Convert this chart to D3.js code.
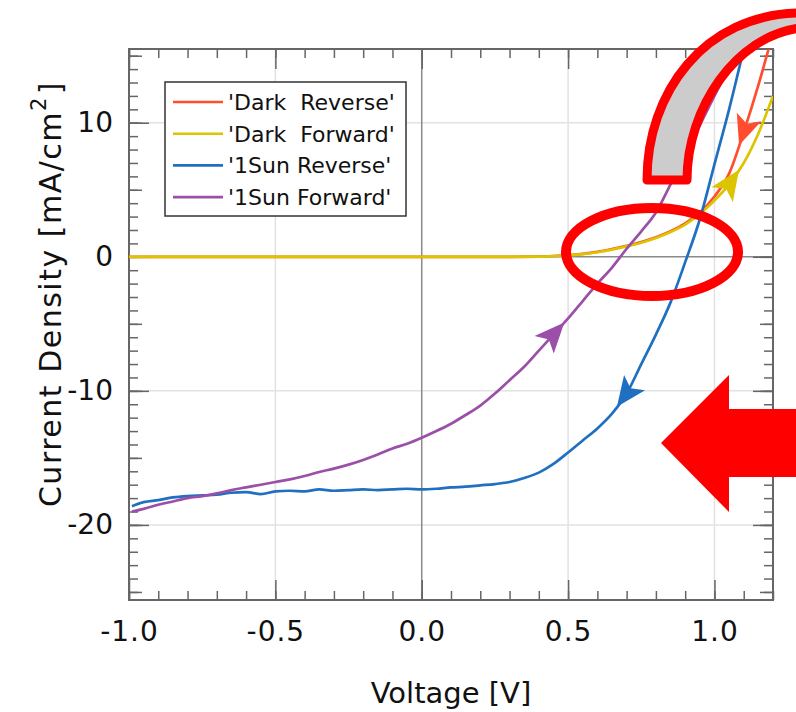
<!DOCTYPE html>
<html lang="en">
<head>
<meta charset="UTF-8">
<title>J-V hysteresis</title>
<style>
  body { margin: 0; background: #fff; }
  text { font-family: "DejaVu Sans", sans-serif; fill: #111; }
</style>
</head>
<body>
<svg id="chart" width="796" height="712"></svg>
<script src="https://cdn.jsdelivr.net/npm/d3@7/dist/d3.min.js"></script>
<script>
// --- data (V in volts, J in mA/cm2) ---
var seriesNames = ["'Dark\u00a0\u00a0Reverse'", "'Dark\u00a0\u00a0Forward'", "'1Sun Reverse'", "'1Sun Forward'"];
var seriesColors = ["#ff4d2e", "#dcc400", "#1f70c0", "#9c4fa8"];

var darkRevV = [-1.0, -0.5, 0.0, 0.3, 0.4, 0.45, 0.5, 0.55, 0.6, 0.65, 0.7, 0.75, 0.8, 0.85, 0.9, 0.95, 1.0, 1.05, 1.1, 1.15, 1.185];
var darkRevJ = [0, 0, 0, 0, 0.02, 0.06, 0.12, 0.22, 0.37, 0.58, 0.82, 1.1, 1.45, 1.9, 2.5, 3.3, 4.5, 6.2, 9.3, 12.8, 15.5];

var darkFwdV = [-1.0, -0.5, 0.0, 0.3, 0.4, 0.45, 0.5, 0.55, 0.6, 0.65, 0.7, 0.75, 0.8, 0.85, 0.9, 0.95, 1.0, 1.05, 1.1, 1.15, 1.2];
var darkFwdJ = [0, 0, 0, 0, 0.01, 0.05, 0.1, 0.2, 0.34, 0.54, 0.78, 1.05, 1.4, 1.85, 2.4, 3.2, 4.2, 5.4, 7.0, 9.2, 12.0];

var sunRevV = [-0.99, -0.95, -0.9, -0.85, -0.8, -0.75, -0.7, -0.65, -0.6, -0.55, -0.5, -0.45, -0.4, -0.35, -0.3, -0.25, -0.2, -0.15, -0.1, -0.05,
               0.0, 0.05, 0.1, 0.15, 0.2, 0.25, 0.3, 0.35, 0.4, 0.45, 0.5, 0.55, 0.6, 0.65, 0.7, 0.75, 0.8, 0.85, 0.9, 0.95, 1.0, 1.05, 1.1];
var sunRevJ = [-18.6, -18.3, -18.15, -17.95, -17.85, -17.8, -17.75, -17.6, -17.55, -17.7, -17.5, -17.45, -17.5, -17.35, -17.45, -17.4, -17.35, -17.4, -17.35, -17.3,
               -17.35, -17.3, -17.2, -17.15, -17.05, -16.95, -16.8, -16.5, -16.1, -15.45, -14.6, -13.7, -12.8, -11.7, -10.2, -8.0, -5.8, -3.4, -0.4, 2.8, 6.9, 11.0, 15.5];

var sunFwdV = [-0.99, -0.95, -0.9, -0.85, -0.8, -0.75, -0.7, -0.65, -0.6, -0.55, -0.5, -0.45, -0.4, -0.35, -0.3, -0.25, -0.2, -0.15, -0.1, -0.05,
               0.0, 0.05, 0.1, 0.15, 0.2, 0.25, 0.3, 0.35, 0.4, 0.45, 0.5, 0.55, 0.6, 0.65, 0.7, 0.75, 0.8, 0.85, 0.9, 0.95, 1.0, 1.05, 1.075];
var sunFwdJ = [-19.0, -18.8, -18.5, -18.25, -18.0, -17.85, -17.65, -17.4, -17.2, -17.0, -16.8, -16.6, -16.35, -16.05, -15.8, -15.5, -15.15, -14.75, -14.3, -13.95,
               -13.5, -13.0, -12.45, -11.8, -11.1, -10.2, -9.2, -8.2, -7.0, -5.8, -4.6, -3.3, -2.0, -0.8, 0.6, 1.9, 3.3, 5.4, 7.5, 9.8, 12.0, 14.2, 15.5];

// where the scan-direction arrowheads sit (V) and which way they point
var arrowV = [1.1, 1.057, 0.695, 0.455];
var arrowDir = [-1, 1, -1, 1];

var xTicks = [-1.0, -0.5, 0.0, 0.5, 1.0];
var yTicks = [-20, -10, 0, 10];

var series = [
  {V: darkRevV, J: darkRevJ},
  {V: darkFwdV, J: darkFwdJ},
  {V: sunRevV, J: sunRevJ},
  {V: sunFwdV, J: sunFwdJ}
];

// --- layout ---
var svg = d3.select('#chart');
var box = {left: 129, right: 773, top: 49, bottom: 600};

var x = d3.scaleLinear().domain([-1.0, 1.2]).range([box.left, box.right]);
var y = d3.scaleLinear().domain([-25.6, 15.5]).range([box.bottom, box.top]);

// grid
var grid = svg.append('g');
grid.selectAll('.gx').data(xTicks.filter(function (d) { return d !== 0 && d > -1; }))
  .enter().append('line')
  .attr('x1', function (d) { return x(d); }).attr('x2', function (d) { return x(d); })
  .attr('y1', box.top).attr('y2', box.bottom)
  .attr('stroke', '#e2e2e2').attr('stroke-width', 1.5);
grid.selectAll('.gy').data(yTicks.filter(function (d) { return d !== 0; }))
  .enter().append('line')
  .attr('y1', function (d) { return y(d); }).attr('y2', function (d) { return y(d); })
  .attr('x1', box.left).attr('x2', box.right)
  .attr('stroke', '#e2e2e2').attr('stroke-width', 1.5);
// zero lines
grid.append('line').attr('x1', x(0)).attr('x2', x(0)).attr('y1', box.top).attr('y2', box.bottom)
  .attr('stroke', '#8a8a8a').attr('stroke-width', 1.5);
grid.append('line').attr('y1', y(0)).attr('y2', y(0)).attr('x1', box.left).attr('x2', box.right)
  .attr('stroke', '#8a8a8a').attr('stroke-width', 1.5);

// inward ticks on all four sides
var xMinor = d3.range(-10, 13).map(function (d) { return d / 10; });
var yMinor = d3.range(-25, 16);
var yMid = yMinor.filter(function (d) { return d % 5 === 0; });

function tickAxis(axis, tr) {
  var g = svg.append('g').attr('transform', tr).call(axis);
  g.select('.domain').remove();
  g.selectAll('line').attr('stroke', '#666').attr('stroke-width', 1.5);
  g.selectAll('text').remove();
}
tickAxis(d3.axisBottom(x).tickValues(xMinor).tickSize(-9), 'translate(0,' + box.bottom + ')');
tickAxis(d3.axisBottom(x).tickValues(xTicks).tickSize(-20), 'translate(0,' + box.bottom + ')');
tickAxis(d3.axisTop(x).tickValues(xMinor).tickSize(-9), 'translate(0,' + box.top + ')');
tickAxis(d3.axisTop(x).tickValues(xTicks).tickSize(-20), 'translate(0,' + box.top + ')');
tickAxis(d3.axisLeft(y).tickValues(yMinor).tickSize(-9), 'translate(' + box.left + ',0)');
tickAxis(d3.axisLeft(y).tickValues(yMid).tickSize(-13), 'translate(' + box.left + ',0)');
tickAxis(d3.axisLeft(y).tickValues(yTicks).tickSize(-20), 'translate(' + box.left + ',0)');
tickAxis(d3.axisRight(y).tickValues(yMinor).tickSize(-9), 'translate(' + box.right + ',0)');
tickAxis(d3.axisRight(y).tickValues(yMid).tickSize(-13), 'translate(' + box.right + ',0)');
tickAxis(d3.axisRight(y).tickValues(yTicks).tickSize(-20), 'translate(' + box.right + ',0)');

// frame
svg.append('rect')
  .attr('x', box.left).attr('y', box.top)
  .attr('width', box.right - box.left).attr('height', box.bottom - box.top)
  .attr('fill', 'none').attr('stroke', '#666').attr('stroke-width', 2);

// tick labels
var xAxis = svg.append('g').attr('transform', 'translate(0,' + box.bottom + ')')
  .call(d3.axisBottom(x).tickValues(xTicks).tickSize(0).tickPadding(21)
    .tickFormat(function (d) { return d.toFixed(1); }));
xAxis.select('.domain').remove();
xAxis.selectAll('text').attr('font-size', 28).attr('font-family', '"DejaVu Sans", sans-serif')
  .attr('fill', '#111').attr('letter-spacing', 1);

var yAxis = svg.append('g').attr('transform', 'translate(' + box.left + ',0)')
  .call(d3.axisLeft(y).tickValues(yTicks).tickSize(0).tickPadding(16)
    .tickFormat(function (d) { return String(d); }));
yAxis.select('.domain').remove();
yAxis.selectAll('text').attr('font-size', 28).attr('font-family', '"DejaVu Sans", sans-serif')
  .attr('fill', '#111');

// axis titles
svg.append('text')
  .attr('x', 451).attr('y', 703)
  .attr('text-anchor', 'middle').attr('font-size', 29)
  .text('Voltage [V]');

var yt = svg.append('text')
  .attr('transform', 'translate(61,294) rotate(-90)')
  .attr('text-anchor', 'middle').attr('font-size', 30).attr('letter-spacing', 1.5);
yt.append('tspan').text('Current Density [mA/cm');
yt.append('tspan').attr('dy', -15).attr('font-size', 21).text('2');
yt.append('tspan').attr('dy', 15).attr('dx', 2).text(']');

// curves
svg.append('clipPath').attr('id', 'plotclip')
  .append('rect').attr('x', box.left).attr('y', box.top)
  .attr('width', box.right - box.left).attr('height', box.bottom - box.top);

var line = d3.line()
  .x(function (d) { return x(d[0]); })
  .y(function (d) { return y(d[1]); })
  .curve(d3.curveMonotoneX);

var plot = svg.append('g').attr('clip-path', 'url(#plotclip)');
plot.selectAll('path.curve')
  .data(series)
  .enter().append('path')
  .attr('class', 'curve')
  .attr('d', function (s) { return line(d3.zip(s.V, s.J)); })
  .attr('fill', 'none')
  .attr('stroke', function (s, i) { return seriesColors[i]; })
  .attr('stroke-width', 2.7);

// arrowheads along the scan direction
function jAt(s, v) {
  var i = d3.bisectLeft(s.V, v);
  i = Math.max(1, Math.min(s.V.length - 1, i));
  var t = (v - s.V[i - 1]) / (s.V[i] - s.V[i - 1]);
  return s.J[i - 1] + t * (s.J[i] - s.J[i - 1]);
}
plot.selectAll('path.head')
  .data(series)
  .enter().append('path')
  .attr('class', 'head')
  .attr('d', 'M14,0 L-16,-13 L-9,0 L-16,13 Z')
  .attr('fill', function (s, i) { return seriesColors[i]; })
  .attr('transform', function (s, i) {
    var v = arrowV[i];
    var px = x(v), py = y(jAt(s, v));
    var dv = 0.01 * arrowDir[i];
    var ang = Math.atan2(y(jAt(s, v + dv)) - py, x(v + dv) - px) * 180 / Math.PI;
    return 'translate(' + px + ',' + py + ') rotate(' + ang + ')';
  });

// legend
var lg = svg.append('g');
lg.append('rect')
  .attr('x', 165).attr('y', 82).attr('width', 241).attr('height', 134)
  .attr('fill', '#fff').attr('stroke', '#333').attr('stroke-width', 1.5);
var rows = lg.selectAll('g.row').data(seriesNames).enter().append('g')
  .attr('class', 'row')
  .attr('transform', function (d, i) { return 'translate(0,' + (102 + i * 31.7) + ')'; });
rows.append('line').attr('x1', 173).attr('x2', 223)
  .attr('stroke', function (d, i) { return seriesColors[i]; }).attr('stroke-width', 2.6);
rows.append('text').attr('x', 228).attr('y', 8).attr('font-size', 22).text(function (d) { return d; });

// overlay annotations (pixel space)
var ov = svg.append('g');
ov.append('ellipse')
  .attr('cx', 652).attr('cy', 252).attr('rx', 86).attr('ry', 44)
  .attr('fill', 'none').attr('stroke', '#ff0000').attr('stroke-width', 10);

ov.append('path')
  .attr('d', 'M647,180 C647,93 704,14 800,13 L840,12 L840,26 L800,28 C736,36 687,108 687,180 Z')
  .attr('fill', '#cccccc').attr('stroke', '#ff0000').attr('stroke-width', 9)
  .attr('stroke-linejoin', 'round');

ov.append('path')
  .attr('d', 'M661,443 L729,375 L729,409 L800,409 L800,477 L729,477 L729,512 Z')
  .attr('fill', '#ff0000');
</script>
</body>
</html>
